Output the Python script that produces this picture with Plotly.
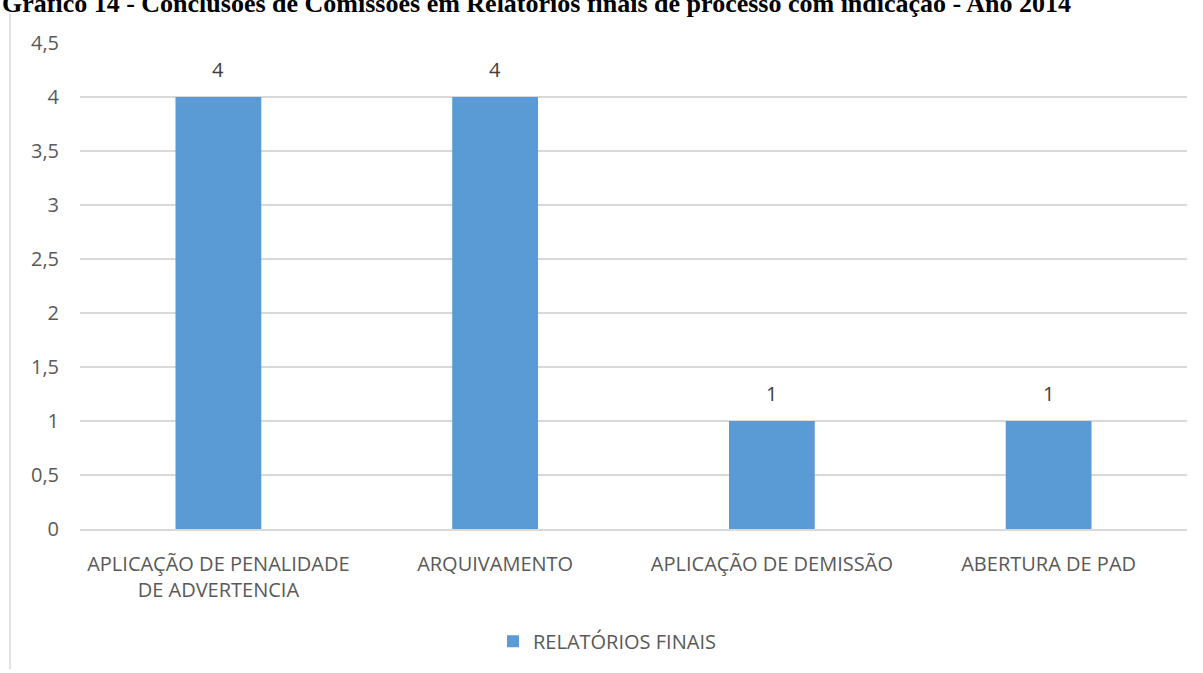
import plotly.graph_objects as go

# Conclusões das comissões (relatórios finais) – 2014
categorias = [
    "APLICAÇÃO DE PENALIDADE<br>DE ADVERTENCIA",
    "ARQUIVAMENTO",
    "APLICAÇÃO DE DEMISSÃO",
    "ABERTURA DE PAD",
]
relatorios_finais = [4, 4, 1, 1]
serie_nome = "RELATÓRIOS FINAIS"
titulo = "Gráfico 14 - Conclusões de Comissões em Relatórios finais de processo com indicação - Ano 2014"

W, H = 1203, 673
L, R, T, B = 80, 16, 43, 141
plot_w = W - L - R
plot_h = H - T - B

AZUL = "#5b9bd5"
CINZA_TXT = "#595959"
GRADE = "#d9d9d9"
FONTE = "Open Sans"
TAM = 20

fig = go.Figure()
fig.add_trace(go.Bar(
    x=categorias,
    y=relatorios_finais,
    name=serie_nome,
    marker=dict(color=AZUL, line=dict(width=0)),
    showlegend=True,
))

# rótulos de valor acima das barras
for c, v in zip(categorias, relatorios_finais):
    fig.add_annotation(
        x=c, y=v, text=f"{v}", showarrow=False,
        yanchor="bottom", yshift=12,
        font=dict(family=FONTE, size=TAM, color="#404040"),
    )

# título da figura (cortado no topo)
fig.add_annotation(
    xref="paper", yref="paper",
    x=(0 - L) / plot_w, y=(H - B - 20) / plot_h,
    xanchor="left", yanchor="bottom",
    text=f"<b>{titulo}</b>", showarrow=False,
    font=dict(family="Liberation Serif", size=26, color="#000000"),
)

# borda esquerda da área do gráfico
fig.add_shape(
    type="line", xref="paper", yref="paper",
    x0=(10 - L) / plot_w, x1=(10 - L) / plot_w,
    y0=(H - B - 13) / plot_h, y1=(H - B - H) / plot_h,
    line=dict(color=GRADE, width=1.5),
)

fig.update_layout(
    width=W, height=H,
    margin=dict(l=L, r=R, t=T, b=B),
    paper_bgcolor="white", plot_bgcolor="white",
    separators=", ",
    bargap=0.69,
    font=dict(family=FONTE, size=TAM, color=CINZA_TXT),
    legend=dict(
        orientation="h",
        x=(607 - L) / plot_w, xanchor="center",
        y=(H - B - 645) / plot_h, yanchor="middle",
        font=dict(family=FONTE, size=TAM, color=CINZA_TXT),
        itemwidth=30,
    ),
    xaxis=dict(
        showgrid=False, showline=True, linecolor=GRADE, linewidth=1.5,
        ticks="", tickfont=dict(family=FONTE, size=TAM, color=CINZA_TXT),
        ticklabelstandoff=16,
    ),
    yaxis=dict(
        range=[0, 4.5], dtick=0.5, tick0=0,
        showgrid=True, gridcolor=GRADE, gridwidth=1.5,
        zeroline=False, showline=False, ticks="",
        tickfont=dict(family=FONTE, size=TAM, color=CINZA_TXT),
        ticklabelstandoff=20,
    ),
)

fig.write_html("out.html")
